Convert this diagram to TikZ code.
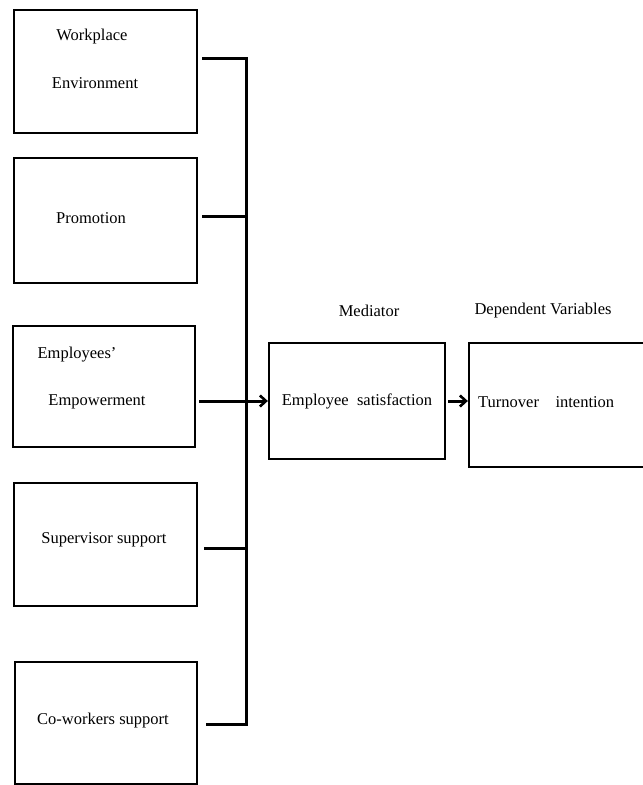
\documentclass[tikz,border=0pt]{standalone}
\usepackage{fontspec}
\setmainfont{Liberation Serif}
\usetikzlibrary{arrows.meta}
\begin{document}
\begin{tikzpicture}[x=1pt,y=-1pt,
  box/.style={draw=black,line width=2.3pt,rectangle,inner sep=0pt},
  lbl/.style={font=\fontsize{16.5}{18}\selectfont,inner sep=0pt,text=black},
  conn/.style={line width=3pt,draw=black},
  arr/.style={conn,-{Straight Barb[length=6pt,width=11pt,line width=2.6pt]}}]
\useasboundingbox (0,0) rectangle (643,785);
\clip (0,0) rectangle (643,785);
\fill[white] (0,0) rectangle (643,785);
% independent variable boxes
\node[box,minimum width=183pt,minimum height=123pt] (b1) at (105.5,71.5) {};
\node[box,minimum width=183pt,minimum height=125pt] (b2) at (105.5,220.5) {};
\node[box,minimum width=182pt,minimum height=121pt] (b3) at (104,386.5) {};
\node[box,minimum width=183pt,minimum height=123pt] (b4) at (105.5,544.5) {};
\node[box,minimum width=182pt,minimum height=122pt] (b5) at (106,723) {};
% mediator and dependent boxes
\node[box,minimum width=176pt,minimum height=116pt] (med) at (357,401) {};
\node[box,minimum width=190pt,minimum height=124pt] (dep) at (564,405) {};
% texts
\node[lbl] (t1a) at (92,37) {Workplace};
\node[lbl] (t1b) at (95,83) {Environment};
\node[lbl] (t2) at (91,218) {Promotion};
\node[lbl] (t3a) at (77,355) {Employees'};
\node[lbl] (t3b) at (97,402) {Empowerment};
\node[lbl] (t4) at (104,540) {Supervisor support};
\node[lbl] (t5) at (103,721) {Co-workers support};
\node[lbl] (tm) at (357,401) {Employee\ \ satisfaction};
\node[lbl,anchor=west] (td) at (478,402) {Turnover\ \ \ \ intention};
\node[lbl] (hm) at (369,311) {Mediator};
\node[lbl] (hd) at (543,311) {Dependent Variables};
% bus
\coordinate (j1) at (246,58);
\coordinate (j5) at (246,724);
\draw[conn,line join=miter] ([xshift=4pt]b1.east |- j1) -- (j1) -- (j5) -- ([xshift=8pt]b5.east |- j5);
\coordinate (j2) at (246,216);
\coordinate (j4) at (246,548);
\draw[conn] ([xshift=4pt]b2.east |- j2) -- (j2);
\draw[conn] ([xshift=6pt]b4.east |- j4) -- (j4);
% arrows
\draw[arr] ([xshift=3pt]b3.east |- med.west) -- (med.west);
\draw[arr] ([xshift=2pt]med.east) -- (dep.west |- med.east);
\end{tikzpicture}
\end{document}
